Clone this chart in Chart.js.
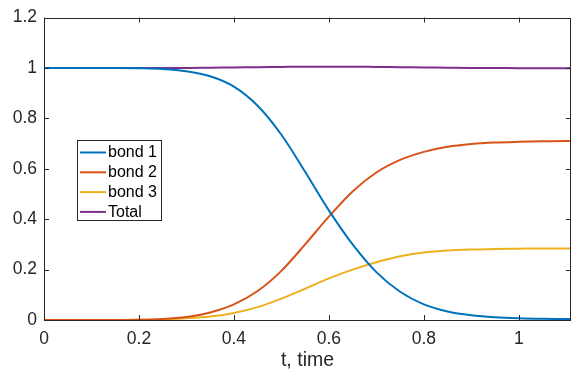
<!DOCTYPE html>
<html>
<head>
<meta charset="utf-8">
<script src="https://cdn.jsdelivr.net/npm/chart.js@4.4.1/dist/chart.umd.min.js"></script>
<style>
  html, body { margin: 0; padding: 0; background: #fff; }
  canvas { display: block; }
</style>
</head>
<body>
<canvas id="myChart" width="580" height="371"></canvas>
<script>
// time samples and the values
var tValues = [0, 0.05, 0.1, 0.15, 0.2, 0.25, 0.3, 0.35, 0.4, 0.45, 0.5, 0.55, 0.6, 0.65, 0.7, 0.75, 0.8, 0.85, 0.9, 0.95, 1, 1.05, 1.1, 1.11];
var bond1 = [1, 1, 1, 1, 0.999, 0.996, 0.987, 0.967, 0.926, 0.85, 0.735, 0.588, 0.435, 0.30, 0.19, 0.112, 0.062, 0.034, 0.019, 0.011, 0.007, 0.005, 0.004, 0.004];
var bond2 = [0, 0, 0, 0, 0.001, 0.004, 0.012, 0.03, 0.062, 0.115, 0.195, 0.30, 0.41, 0.51, 0.585, 0.635, 0.667, 0.687, 0.698, 0.704, 0.707, 0.709, 0.71, 0.71];
var bond3 = [0, 0, 0, 0, 0.001, 0.003, 0.007, 0.014, 0.028, 0.051, 0.085, 0.124, 0.165, 0.2, 0.229, 0.253, 0.268, 0.276, 0.28, 0.282, 0.283, 0.284, 0.284, 0.284];
var total = [1, 1, 1, 1, 1, 1, 1, 1.001, 1.002, 1.003, 1.004, 1.005, 1.005, 1.005, 1.004, 1.003, 1.002, 1.001, 1, 1, 0.999, 0.999, 0.999, 0.999];
var seriesNames = ["bond 1", "bond 2", "bond 3", "Total"];
var xTicks = [0, 0.2, 0.4, 0.6, 0.8, 1];
var yTicks = [0, 0.2, 0.4, 0.6, 0.8, 1, 1.2];

var axisColor = "#262626";
var fontFamily = "'Liberation Sans', Arial, Helvetica, sans-serif";

function pts(values) {
    return tValues.map(function(t, i) { return { x: t, y: values[i] } })
}

function makeSet(label, values, color) {
    return {
        label: label,
        data: pts(values),
        borderColor: color,
        backgroundColor: color,
        borderWidth: 2,
        pointRadius: 0,
        fill: false,
        cubicInterpolationMode: "monotone"
    }
}

// axes box, inward ticks and the legend, MATLAB style
var matlabBox = {
    id: "matlabBox",
    afterDatasetsDraw: function(chart) {
        var ctx = chart.ctx;
        var a = chart.chartArea;
        var xs = chart.scales.x, ys = chart.scales.y;
        ctx.save();
        ctx.strokeStyle = axisColor;
        ctx.lineWidth = 1;
        ctx.strokeRect(Math.round(a.left) + 0.5, Math.round(a.top) + 0.5, Math.round(a.right - a.left) - 1, Math.round(a.bottom - a.top) - 1);
        ctx.beginPath();
        xTicks.forEach(function(v) {
            var px = Math.round(xs.getPixelForValue(v)) + 0.5;
            ctx.moveTo(px, a.bottom); ctx.lineTo(px, a.bottom - 5);
            ctx.moveTo(px, a.top); ctx.lineTo(px, a.top + 5);
        })
        yTicks.forEach(function(v) {
            var py = Math.round(ys.getPixelForValue(v)) + 0.5;
            ctx.moveTo(a.left, py); ctx.lineTo(a.left + 5, py);
            ctx.moveTo(a.right, py); ctx.lineTo(a.right - 5, py);
        })
        ctx.stroke();

        // legend
        ctx.fillStyle = "#fff";
        ctx.fillRect(77, 140, 85, 81);
        ctx.strokeStyle = axisColor;
        ctx.strokeRect(77.5, 140.5, 84, 80);
        ctx.font = "16px " + fontFamily;
        ctx.textBaseline = "middle";
        ctx.textAlign = "left";
        chart.data.datasets.forEach(function(ds, i) {
            var y = 152.5 + i * 19.8;
            ctx.strokeStyle = ds.borderColor;
            ctx.lineWidth = 2;
            ctx.beginPath();
            ctx.moveTo(80, y); ctx.lineTo(106, y);
            ctx.stroke();
            ctx.fillStyle = "#000";
            ctx.fillText(ds.label, 108, y + 0.5);
        })
        ctx.restore();
    }
}

function plainLabel(value) {
    return String(Math.round(value * 1000) / 1000)
}

new Chart("myChart", {
    type: "line",
    data: {
        datasets: [
            makeSet(seriesNames[0], bond1, "#0072BD"),
            makeSet(seriesNames[1], bond2, "#D95319"),
            makeSet(seriesNames[2], bond3, "#EDB120"),
            makeSet(seriesNames[3], total, "#7E2F8E")
        ]
    },
    options: {
        responsive: false,
        animation: false,
        devicePixelRatio: 1,
        layout: { padding: { top: 15, right: 9, left: 0, bottom: 0 } },
        plugins: {
            legend: { display: false },
            tooltip: { enabled: false }
        },
        scales: {
            x: {
                type: "linear",
                min: 0,
                max: 1.11,
                grid: { display: false, drawTicks: false },
                border: { display: false },
                afterBuildTicks: function(s) { s.ticks = xTicks.map(function(v) { return { value: v } }) },
                afterFit: function(s) { s.height = 51 },
                ticks: {
                    padding: 9,
                    color: axisColor,
                    font: { family: fontFamily, size: 17.5 },
                    maxRotation: 0,
                    callback: plainLabel
                },
                title: {
                    display: true,
                    text: "t, time",
                    color: axisColor,
                    font: { family: fontFamily, size: 19.5, lineHeight: 1.1 },
                    padding: { top: 0, bottom: 0 }
                }
            },
            y: {
                type: "linear",
                min: 0,
                max: 1.2,
                grid: { display: false, drawTicks: false },
                border: { display: false },
                afterBuildTicks: function(s) { s.ticks = yTicks.map(function(v) { return { value: v } }) },
                afterFit: function(s) { s.width = 44 },
                ticks: {
                    padding: 7,
                    color: axisColor,
                    font: { family: fontFamily, size: 17.5 },
                    callback: plainLabel
                }
            }
        }
    },
    plugins: [matlabBox]
});
</script>
</body>
</html>
